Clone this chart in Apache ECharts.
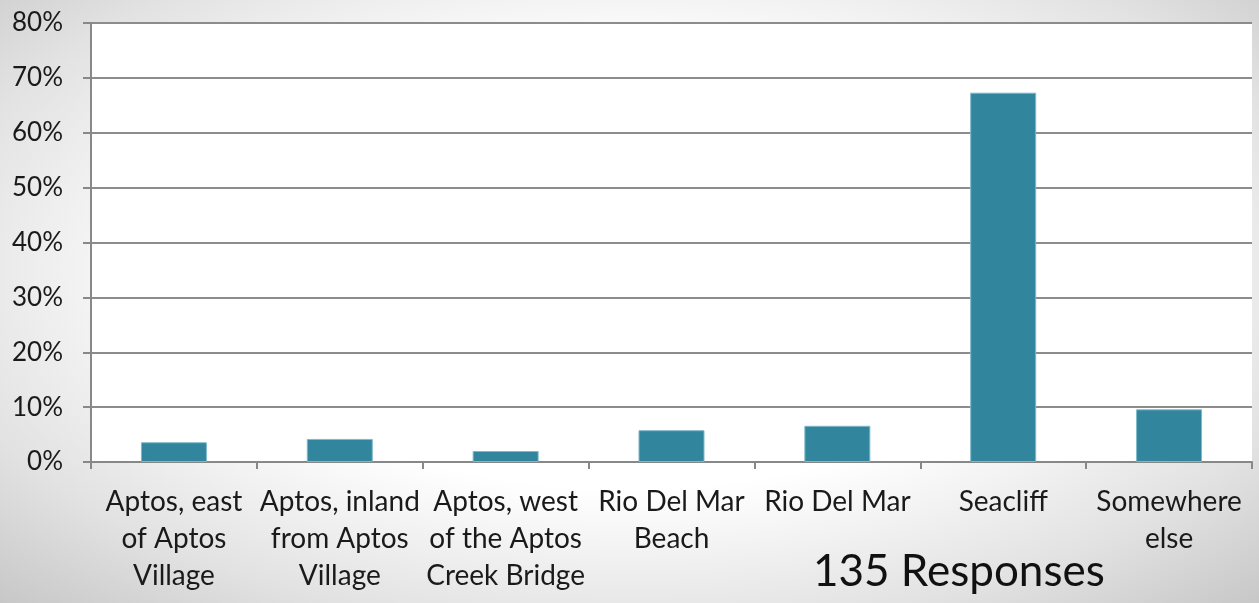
<!DOCTYPE html>
<html>
<head>
<meta charset="utf-8">
<script src="https://cdn.jsdelivr.net/npm/echarts@6/dist/echarts.min.js"></script>
<style>
html,body{margin:0;padding:0;}
#c{width:1259px;height:603px;background:radial-gradient(ellipse 75% 80% at 50% 45%, #ffffff 45%, #e2e2e2 75%, #c2c2c2 100%);}
</style>
</head>
<body>
<div id="c"></div>
<script>
const categories = ['Aptos, east\nof Aptos\nVillage', 'Aptos, inland\nfrom Aptos\nVillage', 'Aptos, west\nof the Aptos\nCreek Bridge', 'Rio Del Mar\nBeach', 'Rio Del Mar', 'Seacliff', 'Somewhere\nelse'];
const values = [3.6, 4.2, 2.0, 5.8, 6.6, 67.3, 9.6];
const yTicks = [0, 80, 10];
const note = '135 Responses';

const chart = echarts.init(document.getElementById('c'), null, {renderer: 'canvas'});
chart.setOption({
  backgroundColor: 'transparent',
  animation: false,
  title: {
    text: note, left: 808, top: 545,
    textStyle: {fontFamily: 'Lato', fontSize: 44, fontWeight: 'normal', color: '#111'}
  },
  grid: {left: 91, right: 7, top: 23, bottom: 141, show: true, backgroundColor: '#ffffff', borderWidth: 0},
  xAxis: {
    type: 'category', data: categories,
    axisLine: {lineStyle: {color: '#888', width: 2}},
    axisTick: {show: true, length: 7, lineStyle: {color: '#888', width: 2}},
    axisLabel: {interval: 0, margin: 21, lineHeight: 37, fontFamily: 'Lato', fontSize: 28, color: '#1a1a1a'}
  },
  yAxis: {
    type: 'value', min: yTicks[0], max: yTicks[1], interval: yTicks[2],
    axisLine: {show: true, lineStyle: {color: '#888', width: 2}},
    axisTick: {show: true, length: 8, lineStyle: {color: '#888', width: 2}},
    splitLine: {lineStyle: {color: '#8c8c8c', width: 2}},
    axisLabel: {formatter: '{value}%', margin: 28, fontFamily: 'Lato', fontSize: 26, color: '#1a1a1a'}
  },
  series: [{
    type: 'bar', data: values, barWidth: 66,
    itemStyle: {color: '#31859c', borderColor: '#7fb9c9', borderWidth: 1}
  }]
});
</script>
</body>
</html>
